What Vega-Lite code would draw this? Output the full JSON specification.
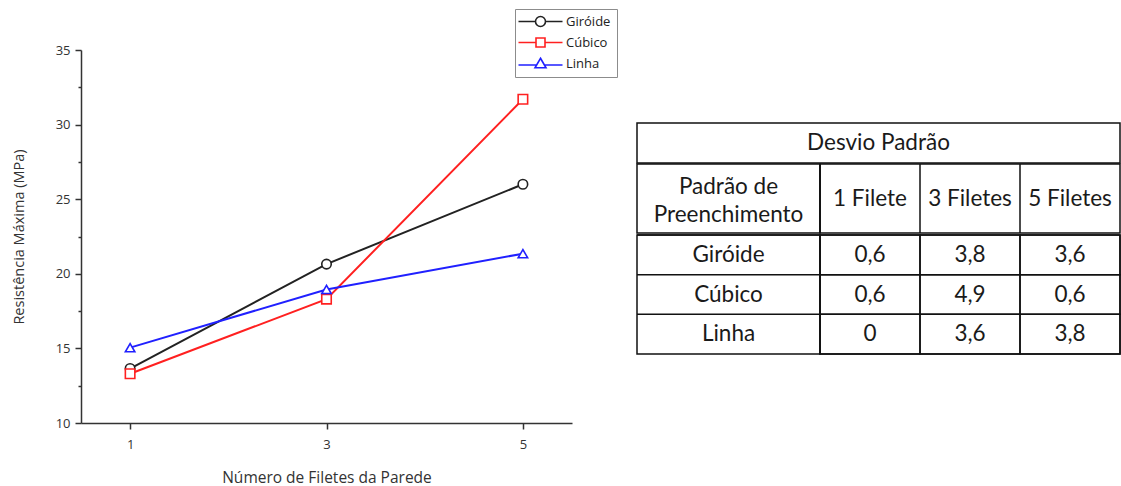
{
  "$schema": "https://vega.github.io/schema/vega-lite/v6.json",
  "background": "white",
  "padding": {"left": 11, "top": 8, "right": 0, "bottom": 0},
  "config": {
    "view": {"stroke": null},
    "font": "Open Sans",
    "concat": {"spacing": 0},
    "locale": {"number": {"decimal": ",", "thousands": ".", "grouping": [3], "currency": ["R$", ""]}}
  },
  "datasets": {
    "resistencia": [
      {"padrao": "Giróide", "filetes": 1, "resistencia": 13.65},
      {"padrao": "Giróide", "filetes": 3, "resistencia": 20.65},
      {"padrao": "Giróide", "filetes": 5, "resistencia": 26.0},
      {"padrao": "Cúbico", "filetes": 1, "resistencia": 13.3},
      {"padrao": "Cúbico", "filetes": 3, "resistencia": 18.3},
      {"padrao": "Cúbico", "filetes": 5, "resistencia": 31.7},
      {"padrao": "Linha", "filetes": 1, "resistencia": 15.05},
      {"padrao": "Linha", "filetes": 3, "resistencia": 18.95},
      {"padrao": "Linha", "filetes": 5, "resistencia": 21.35}
    ],
    "desvio": [
      {"padrao": "Giróide", "coluna": "1 Filete", "desvio": 0.6},
      {"padrao": "Giróide", "coluna": "3 Filetes", "desvio": 3.8},
      {"padrao": "Giróide", "coluna": "5 Filetes", "desvio": 3.6},
      {"padrao": "Cúbico", "coluna": "1 Filete", "desvio": 0.6},
      {"padrao": "Cúbico", "coluna": "3 Filetes", "desvio": 4.9},
      {"padrao": "Cúbico", "coluna": "5 Filetes", "desvio": 0.6},
      {"padrao": "Linha", "coluna": "1 Filete", "desvio": 0},
      {"padrao": "Linha", "coluna": "3 Filetes", "desvio": 3.6},
      {"padrao": "Linha", "coluna": "5 Filetes", "desvio": 3.8}
    ],
    "colunas": [{"coluna": "1 Filete"}, {"coluna": "3 Filetes"}, {"coluna": "5 Filetes"}],
    "padroes": [{"padrao": "Giróide"}, {"padrao": "Cúbico"}, {"padrao": "Linha"}]
  },
  "spacing": 63,
  "hconcat": [
    {
      "width": 491,
      "height": 373,
      "data": {"name": "resistencia"},
      "encoding": {
        "x": {
          "field": "filetes", "type": "quantitative",
          "scale": {"domain": [0.5, 5.5], "nice": false, "zero": false},
          "axis": {
            "values": [1, 3, 5], "format": "d", "grid": false,
            "title": "Número de Filetes da Parede",
            "tickSize": 6, "tickWidth": 1.5, "tickColor": "#333",
            "domainColor": "#333", "domainWidth": 1.5,
            "labelFontSize": 13, "labelColor": "#333", "labelPadding": 9,
            "titleFontSize": 15.5, "titleFontWeight": "normal", "titleColor": "#333", "titlePadding": 19
          }
        },
        "y": {
          "field": "resistencia", "type": "quantitative",
          "scale": {"domain": [10, 35], "nice": false, "zero": false},
          "axis": {
            "values": [10, 12.5, 15, 17.5, 20, 22.5, 25, 27.5, 30, 32.5, 35],
            "labelExpr": "datum.value % 5 === 0 ? datum.label : ''",
            "grid": false,
            "title": "Resistência Máxima (MPa)",
            "tickSize": {"condition": {"test": "datum.value % 5 === 0", "value": 6}, "value": 3},
            "tickWidth": 1.5, "tickColor": "#333",
            "domainColor": "#333", "domainWidth": 1.5,
            "labelFontSize": 13, "labelColor": "#333", "labelPadding": 5,
            "titleFontSize": 14.5, "titleFontWeight": "normal", "titleColor": "#333", "titlePadding": 29
          }
        },
        "color": {
          "field": "padrao", "type": "nominal",
          "scale": {"domain": ["Giróide", "Cúbico", "Linha"], "range": ["#222222", "#ff2020", "#2020ff"]},
          "legend": {
            "orient": "none", "legendX": 434, "legendY": -41,
            "title": null,
            "fillColor": "white",
            "strokeColor": "#8c8c8c",
            "padding": 6,
            "symbolSize": 100,
            "symbolOffset": 13,
            "labelOffset": 19,
            "rowPadding": 4,
            "labelFontSize": 13, "labelColor": "#222", "labelFont": "Open Sans",
            "symbolStrokeWidth": 1.6,
            "symbolFillColor": "white"
          }
        }
      },
      "layer": [
        {"mark": {"type": "line", "strokeWidth": 2}, "encoding": {}},
        {
          "transform": [{"filter": "datum.padrao === 'Giróide'"}],
          "mark": {"type": "point", "shape": "circle", "filled": false, "fill": "white", "fillOpacity": 1, "opacity": 1, "size": 90, "strokeWidth": 1.6},
          "encoding": {}
        },
        {
          "transform": [{"filter": "datum.padrao === 'Cúbico'"}],
          "mark": {"type": "point", "shape": "square", "filled": false, "fill": "white", "fillOpacity": 1, "opacity": 1, "size": 90, "strokeWidth": 1.6},
          "encoding": {}
        },
        {
          "transform": [{"filter": "datum.padrao === 'Linha'"}],
          "mark": {"type": "point", "shape": "triangle-up", "filled": false, "fill": "white", "fillOpacity": 1, "opacity": 1, "size": 90, "strokeWidth": 1.6},
          "encoding": {}
        },
        {
          "transform": [{"filter": "false"}],
          "mark": {"type": "point", "filled": false, "strokeWidth": 1.6},
          "encoding": {
            "shape": {
              "field": "padrao", "type": "nominal",
              "scale": {"domain": ["Giróide", "Cúbico", "Linha"], "range": ["M-4.4,0L-1,0M1,0L4.4,0M-1,0A1,1,0,1,1,1,0A1,1,0,1,1,-1,0Z", "M-4.4,0L-0.9,0M0.9,0L4.4,0M-0.9,-0.9L0.9,-0.9L0.9,0.9L-0.9,0.9Z", "M-4.4,0.3L-0.75,0.3M0.75,0.3L4.4,0.3M0,-1.05L1.1,0.85L-1.1,0.85Z"]},
              "legend": {
                "orient": "none", "legendX": 434, "legendY": -41,
                "title": null,
                "fillColor": "white",
                "strokeColor": "#8c8c8c",
                "padding": 6,
                "symbolSize": 100,
                "symbolOffset": 13,
                "labelOffset": 19,
                "rowPadding": 4,
                "labelFontSize": 13, "labelColor": "#222", "labelFont": "Open Sans",
                "symbolStrokeWidth": 1.6,
                "symbolFillColor": "white"
              }
            }
          }
        }
      ]
    },
    {
      "spacing": -4,
      "vconcat": [
        {
          "width": 10, "height": 73,
          "data": {"values": [{"t": ""}]},
          "mark": {"type": "text"},
          "encoding": {"text": {"field": "t"}}
        },
        {
          "width": 483, "height": 40,
          "view": {"stroke": "#111", "strokeWidth": 1.5},
          "data": {"values": [{"t": "Desvio Padrão"}]},
          "mark": {"type": "text", "font": "Lato", "fontSize": 22.5, "color": "#1a1a1a"},
          "encoding": {"text": {"field": "t"}}
        },
        {
          "spacing": 0,
          "bounds": "flush",
          "hconcat": [
            {
              "width": 183, "height": 69,
              "view": {"stroke": "#111", "strokeWidth": 1.5},
              "data": {"values": [{"t": "Padrão de\nPreenchimento"}]},
              "mark": {"type": "text", "font": "Lato", "fontSize": 22.5, "color": "#1a1a1a", "lineBreak": "\n", "lineHeight": 28, "dy": -12},
              "encoding": {"text": {"field": "t"}}
            },
            {
              "width": 300, "height": 69,
              "view": {"stroke": "#111", "strokeWidth": 1.5},
              "data": {"name": "colunas"},
              "encoding": {
                "x": {"field": "coluna", "type": "nominal", "axis": null, "scale": {"domain": ["1 Filete", "3 Filetes", "5 Filetes"]}}
              },
              "layer": [
                {"mark": {"type": "rule", "color": "#111", "strokeWidth": 1.5}, "encoding": {"x": {"field": "coluna", "type": "nominal", "bandPosition": 0}}},
                {"mark": {"type": "text", "font": "Lato", "fontSize": 22.5, "color": "#1a1a1a"}, "encoding": {"text": {"field": "coluna"}}}
              ]
            }
          ]
        },
        {
          "spacing": 0,
          "bounds": "flush",
          "hconcat": [
            {
              "width": 183, "height": 119,
              "view": {"stroke": "#111", "strokeWidth": 1.5},
              "data": {"name": "padroes"},
              "encoding": {
                "y": {"field": "padrao", "type": "nominal", "axis": null, "scale": {"domain": ["Giróide", "Cúbico", "Linha"]}}
              },
              "layer": [
                {"mark": {"type": "rule", "color": "#111", "strokeWidth": 1.5}, "encoding": {"y": {"field": "padrao", "type": "nominal", "bandPosition": 0}}},
                {"mark": {"type": "text", "font": "Lato", "fontSize": 22.5, "color": "#1a1a1a"}, "encoding": {"text": {"field": "padrao"}}}
              ]
            },
            {
              "width": 300, "height": 119,
              "view": {"stroke": "#111", "strokeWidth": 1.5},
              "data": {"name": "desvio"},
              "encoding": {
                "x": {"field": "coluna", "type": "nominal", "axis": null, "scale": {"domain": ["1 Filete", "3 Filetes", "5 Filetes"]}},
                "y": {"field": "padrao", "type": "nominal", "axis": null, "scale": {"domain": ["Giróide", "Cúbico", "Linha"]}}
              },
              "layer": [
                {"mark": {"type": "rect", "fillOpacity": 0, "stroke": "#111", "strokeWidth": 1.5}},
                {"mark": {"type": "text", "font": "Lato", "fontSize": 22.5, "color": "#1a1a1a"}, "encoding": {"text": {"field": "desvio", "type": "quantitative", "format": "~g"}}}
              ]
            }
          ]
        }
      ]
    }
  ]
}
